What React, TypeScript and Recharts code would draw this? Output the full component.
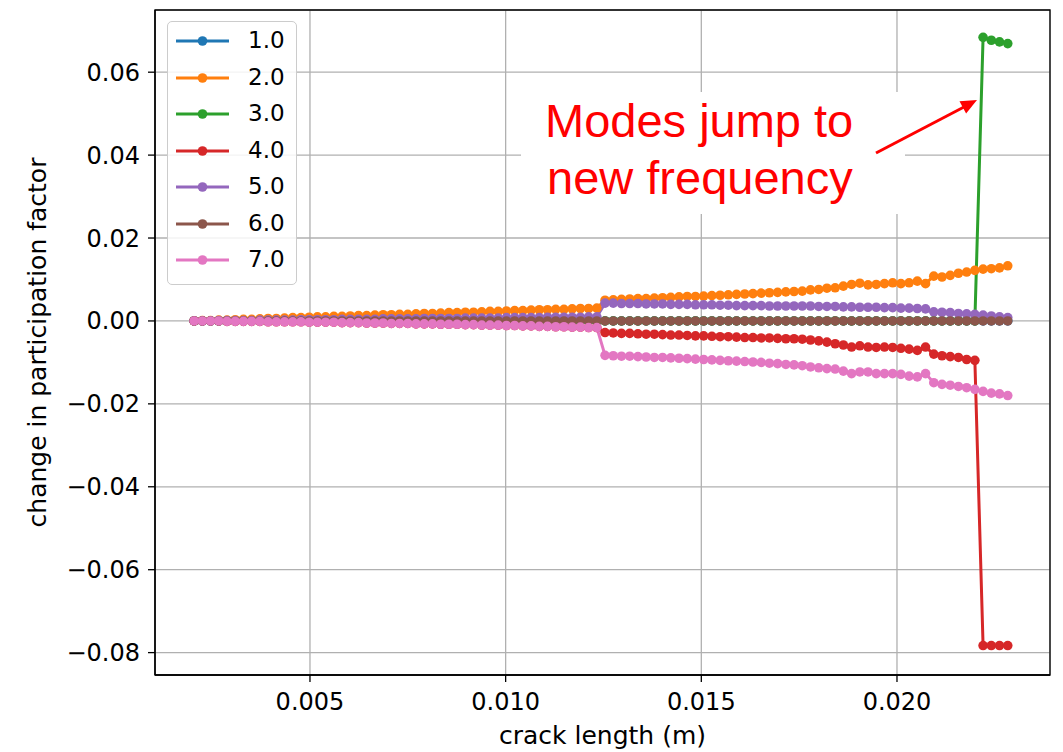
import React from "react";
import { LineChart, Line, XAxis, YAxis, CartesianGrid, ReferenceArea } from "recharts";

// crack lengths (m)
const CRACK = [
  0.00204, 0.00225, 0.00246, 0.00267, 0.00288, 0.00309, 0.00330, 0.00351, 0.00372, 0.00393,
  0.00414, 0.00435, 0.00456, 0.00477, 0.00498, 0.00519, 0.00540, 0.00561, 0.00582, 0.00603,
  0.00624, 0.00645, 0.00666, 0.00687, 0.00708, 0.00729, 0.00750, 0.00771, 0.00792, 0.00813,
  0.00834, 0.00855, 0.00876, 0.00897, 0.00918, 0.00939, 0.00960, 0.00981, 0.01002, 0.01023,
  0.01044, 0.01065, 0.01086, 0.01107, 0.01128, 0.01149, 0.01170, 0.01191, 0.01212, 0.01233,
  0.01254, 0.01275, 0.01296, 0.01317, 0.01338, 0.01359, 0.01380, 0.01401, 0.01422, 0.01443,
  0.01464, 0.01485, 0.01506, 0.01527, 0.01548, 0.01569, 0.01590, 0.01611, 0.01632, 0.01653,
  0.01674, 0.01695, 0.01716, 0.01737, 0.01758, 0.01779, 0.01800, 0.01821, 0.01842, 0.01863,
  0.01884, 0.01905, 0.01926, 0.01947, 0.01968, 0.01989, 0.02010, 0.02031, 0.02052, 0.02073,
  0.02094, 0.02115, 0.02136, 0.02157, 0.02178, 0.02199, 0.02220, 0.02241, 0.02262, 0.02283,
];

const MODE_1 = [
  0, 0, 0, 0, 0, 0, 0, 0, 0, 0,
  0, 0, 0, 0, 0, 0, 0, 0, 0, 0,
  0, 0, 0, 0, 0, 0, 0, 0, 0, 0,
  0, 0, 0, 0, 0, 0, 0, 0, 0, 0,
  0, 0, 0, 0, 0, 0, 0, 0, 0, 0,
  0, 0, 0, 0, 0, 0, 0, 0, 0, 0,
  0, 0, 0, 0, 0, 0, 0, 0, 0, 0,
  0, 0, 0, 0, 0, 0, 0, 0, 0, 0,
  0, 0, 0, 0, 0, 0, 0, 0, 0, 0,
  0, 0, 0, 0, 0, 0, 0, 0, 0, 0,
];

const MODE_2 = [
  0.0000, 0.0001, 0.0001, 0.0002, 0.0002, 0.0003, 0.0004, 0.0004, 0.0005, 0.0006,
  0.0006, 0.0007, 0.0008, 0.0008, 0.0009, 0.0010, 0.0010, 0.0011, 0.0011, 0.0012,
  0.0013, 0.0013, 0.0014, 0.0015, 0.0015, 0.0016, 0.0016, 0.0017, 0.0018, 0.0018,
  0.0019, 0.0020, 0.0020, 0.0021, 0.0021, 0.0022, 0.0023, 0.0023, 0.0024, 0.0025,
  0.0025, 0.0026, 0.0027, 0.0027, 0.0028, 0.0028, 0.0029, 0.0030, 0.0030, 0.0031,
  0.0050, 0.0051, 0.0052, 0.0053, 0.0054, 0.0054, 0.0055, 0.0056, 0.0057, 0.0058,
  0.0059, 0.0059, 0.0060, 0.0061, 0.0062, 0.0063, 0.0064, 0.0065, 0.0066, 0.0067,
  0.0068, 0.0069, 0.0070, 0.0071, 0.0072, 0.0075, 0.0076, 0.0079, 0.0080, 0.0084,
  0.0088, 0.0091, 0.0087, 0.0088, 0.0090, 0.0092, 0.0090, 0.0092, 0.0096, 0.0090,
  0.0108, 0.0106, 0.0110, 0.0115, 0.0118, 0.0122, 0.0125, 0.0126, 0.0128, 0.0133,
];

const MODE_3 = [
  0, 0, 0, 0, 0, 0, 0, 0, 0, 0,
  0, 0, 0, 0, 0, 0, 0, 0, 0, 0,
  0, 0, 0, 0, 0, 0, 0, 0, 0, 0,
  0, 0, 0, 0, 0, 0, 0, 0, 0, 0,
  0, 0, 0, 0, 0, 0, 0, 0, 0, 0,
  0, 0, 0, 0, 0, 0, 0, 0, 0, 0,
  0, 0, 0, 0, 0, 0, 0, 0, 0, 0,
  0, 0, 0, 0, 0, 0, 0, 0, 0, 0,
  0, 0, 0, 0, 0, 0, 0, 0, 0, 0,
  0, 0, 0, 0, 0, 0, 0.0684, 0.0677, 0.0673, 0.0669,
];

const MODE_4 = [
  0.0000, 0.0000, 0.0000, 0.0000, -0.0001, -0.0001, -0.0001, -0.0001, -0.0001, -0.0002,
  -0.0002, -0.0002, -0.0002, -0.0002, -0.0003, -0.0003, -0.0003, -0.0003, -0.0004, -0.0004,
  -0.0004, -0.0005, -0.0005, -0.0005, -0.0006, -0.0006, -0.0006, -0.0007, -0.0007, -0.0007,
  -0.0008, -0.0008, -0.0008, -0.0009, -0.0009, -0.0010, -0.0010, -0.0010, -0.0011, -0.0011,
  -0.0012, -0.0012, -0.0013, -0.0013, -0.0014, -0.0014, -0.0015, -0.0015, -0.0016, -0.0016,
  -0.0028, -0.0029, -0.0030, -0.0030, -0.0031, -0.0032, -0.0032, -0.0033, -0.0034, -0.0034,
  -0.0035, -0.0036, -0.0036, -0.0037, -0.0038, -0.0038, -0.0039, -0.0040, -0.0040, -0.0041,
  -0.0041, -0.0042, -0.0043, -0.0043, -0.0044, -0.0046, -0.0048, -0.0051, -0.0055, -0.0058,
  -0.0063, -0.0060, -0.0063, -0.0064, -0.0063, -0.0064, -0.0066, -0.0068, -0.0071, -0.0063,
  -0.0080, -0.0084, -0.0086, -0.0088, -0.0093, -0.0095, -0.0783, -0.0783, -0.0783, -0.0783,
];

const MODE_5 = [
  0.0000, 0.0000, 0.0000, 0.0001, 0.0001, 0.0001, 0.0001, 0.0001, 0.0002, 0.0002,
  0.0002, 0.0002, 0.0002, 0.0003, 0.0003, 0.0003, 0.0003, 0.0003, 0.0004, 0.0004,
  0.0004, 0.0004, 0.0004, 0.0005, 0.0005, 0.0005, 0.0005, 0.0005, 0.0006, 0.0006,
  0.0006, 0.0006, 0.0006, 0.0007, 0.0007, 0.0007, 0.0007, 0.0007, 0.0008, 0.0008,
  0.0008, 0.0008, 0.0008, 0.0009, 0.0009, 0.0009, 0.0009, 0.0009, 0.0010, 0.0010,
  0.0043, 0.0043, 0.0042, 0.0042, 0.0042, 0.0041, 0.0041, 0.0041, 0.0040, 0.0040,
  0.0040, 0.0039, 0.0039, 0.0039, 0.0038, 0.0038, 0.0037, 0.0037, 0.0037, 0.0037,
  0.0036, 0.0036, 0.0036, 0.0036, 0.0036, 0.0036, 0.0035, 0.0035, 0.0035, 0.0034,
  0.0034, 0.0033, 0.0033, 0.0033, 0.0032, 0.0032, 0.0031, 0.0031, 0.0030, 0.0029,
  0.0022, 0.0021, 0.0020, 0.0018, 0.0017, 0.0016, 0.0014, 0.0012, 0.0010, 0.0008,
];

const MODE_6 = [
  0, 0, 0, 0, 0, 0, 0, 0, 0, 0,
  0, 0, 0, 0, 0, 0, 0, 0, 0, 0,
  0, 0, 0, 0, 0, 0, 0, 0, 0, 0,
  0, 0, 0, 0, 0, 0, 0, 0, 0, 0,
  0, 0, 0, 0, 0, 0, 0, 0, 0, 0,
  0, 0, 0, 0, 0, 0, 0, 0, 0, 0,
  0, 0, 0, 0, 0, 0, 0, 0, 0, 0,
  0, 0, 0, 0, 0, 0, 0, 0, 0, 0,
  0, 0, 0, 0, 0, 0, 0, 0, 0, 0,
  0, 0, 0, 0, 0, 0, 0, 0, 0, 0,
];

const MODE_7 = [
  0.0000, 0.0000, 0.0000, 0.0000, -0.0001, -0.0001, -0.0001, -0.0001, -0.0001, -0.0002,
  -0.0002, -0.0002, -0.0002, -0.0002, -0.0003, -0.0003, -0.0003, -0.0003, -0.0004, -0.0004,
  -0.0004, -0.0005, -0.0005, -0.0005, -0.0006, -0.0006, -0.0006, -0.0007, -0.0007, -0.0007,
  -0.0008, -0.0008, -0.0008, -0.0009, -0.0009, -0.0010, -0.0010, -0.0010, -0.0011, -0.0011,
  -0.0012, -0.0012, -0.0013, -0.0013, -0.0014, -0.0014, -0.0015, -0.0015, -0.0016, -0.0016,
  -0.0083, -0.0084, -0.0085, -0.0085, -0.0086, -0.0087, -0.0088, -0.0088, -0.0089, -0.0090,
  -0.0091, -0.0092, -0.0093, -0.0094, -0.0095, -0.0096, -0.0097, -0.0098, -0.0099, -0.0100,
  -0.0102, -0.0103, -0.0105, -0.0106, -0.0108, -0.0111, -0.0113, -0.0115, -0.0116, -0.0121,
  -0.0127, -0.0123, -0.0123, -0.0127, -0.0127, -0.0127, -0.0129, -0.0133, -0.0135, -0.0127,
  -0.0149, -0.0153, -0.0155, -0.0158, -0.0161, -0.0165, -0.0170, -0.0174, -0.0176, -0.0180,
];

const SERIES = [
  { key: "m1", name: "1.0", color: "#1f77b4", values: MODE_1 },
  { key: "m2", name: "2.0", color: "#ff7f0e", values: MODE_2 },
  { key: "m3", name: "3.0", color: "#2ca02c", values: MODE_3 },
  { key: "m4", name: "4.0", color: "#d62728", values: MODE_4 },
  { key: "m5", name: "5.0", color: "#9467bd", values: MODE_5 },
  { key: "m6", name: "6.0", color: "#8c564b", values: MODE_6 },
  { key: "m7", name: "7.0", color: "#e377c2", values: MODE_7 },
];

const X_TICKS = [0.005, 0.01, 0.015, 0.02];
const Y_TICKS = [-0.08, -0.06, -0.04, -0.02, 0, 0.02, 0.04, 0.06];
const X_DOMAIN = [0.00104, 0.02391];
const Y_DOMAIN = [-0.0854, 0.075];

const data = CRACK.map((x, i) => {
  const row: Record<string, number> = { x };
  SERIES.forEach((s) => (row[s.key] = s.values[i]));
  return row;
});

const FONT = "DejaVu Sans";
const tickStyle = { fill: "#000", fontSize: 24, fontFamily: FONT };
const fmtY = (v: number) => (v < 0 ? "\u2212" + Math.abs(v).toFixed(2) : v.toFixed(2));

function LegendBox() {
  return (
    <div style={{ position: "absolute", left: 167, top: 21, width: 128, height: 262, border: "1.5px solid #cccccc", borderRadius: 5, background: "rgba(255,255,255,0.85)", fontFamily: FONT }}>
      {SERIES.map((s, i) => (
        <div key={s.key} style={{ position: "absolute", left: 0, top: 4 + i * 36.55, height: 30, width: 128 }}>
          <svg width={70} height={30} style={{ position: "absolute", left: 0, top: 0 }}>
            <line x1={8} y1={15} x2={61} y2={15} stroke={s.color} strokeWidth={3} />
            <circle cx={34.5} cy={15} r={4.8} fill={s.color} />
          </svg>
          <span style={{ position: "absolute", left: 80, top: 0, fontSize: 23, lineHeight: "28px", color: "#000" }}>{s.name}</span>
        </div>
      ))}
    </div>
  );
}

function Annotation() {
  return (
    <svg width={1063} height={752} style={{ position: "absolute", left: 0, top: 0, pointerEvents: "none" }}>
      <rect x={521} y={92} width={384} height={122} fill="#fff" />
      <text x={545} y={137} fill="#ff0000" fontSize={47} fontFamily="Liberation Sans">Modes jump to</text>
      <text x={547} y={194} fill="#ff0000" fontSize={47} fontFamily="Liberation Sans">new frequency</text>
      <line x1={876} y1={153} x2={964} y2={107} stroke="#ff0000" strokeWidth={3} />
      <polygon points="977,100 966.1,113.6 959.5,101.2" fill="#ff0000" />
    </svg>
  );
}

export default function App() {
  return (
    <div style={{ position: "absolute", left: 0, top: 0, width: 1063, height: 752, background: "#fff", fontFamily: FONT }}>
      <LineChart width={1063} height={752} data={data} margin={{ top: 10, right: 13, bottom: 0, left: 0 }}>
        <CartesianGrid stroke="#b0b0b0" strokeWidth={1.3} />
        <XAxis
          dataKey="x"
          type="number"
          domain={X_DOMAIN}
          ticks={X_TICKS}
          allowDataOverflow
          height={77}
          tick={tickStyle}
          tickFormatter={(v: number) => v.toFixed(3)}
          tickSize={7}
          tickMargin={11}
          axisLine={{ stroke: "#000", strokeWidth: 1.3 }}
          tickLine={{ stroke: "#000", strokeWidth: 1.3 }}
          label={{ value: "crack length (m)", position: "insideBottom", offset: 8, fill: "#000", fontSize: 25, fontFamily: FONT }}
        />
        <YAxis
          type="number"
          domain={Y_DOMAIN}
          ticks={Y_TICKS}
          allowDataOverflow
          width={155}
          tick={tickStyle}
          tickFormatter={fmtY}
          tickSize={7}
          tickMargin={8}
          axisLine={{ stroke: "#000", strokeWidth: 1.3 }}
          tickLine={{ stroke: "#000", strokeWidth: 1.3 }}
          label={{ value: "change in participation factor", angle: -90, position: "insideLeft", offset: 37, fill: "#000", fontSize: 25, fontFamily: FONT, style: { textAnchor: "middle" } }}
        />
        <ReferenceArea x1={X_DOMAIN[0]} x2={X_DOMAIN[1]} y1={Y_DOMAIN[0]} y2={Y_DOMAIN[1]} fill="none" stroke="#000" strokeWidth={1.3} />
        {SERIES.map((s) => (
          <Line
            key={s.key}
            type="linear"
            dataKey={s.key}
            name={s.name}
            stroke={s.color}
            strokeWidth={3}
            dot={{ r: 4.8, fill: s.color, stroke: "none" }}
            isAnimationActive={false}
          />
        ))}
      </LineChart>
      <LegendBox />
      <Annotation />
    </div>
  );
}
